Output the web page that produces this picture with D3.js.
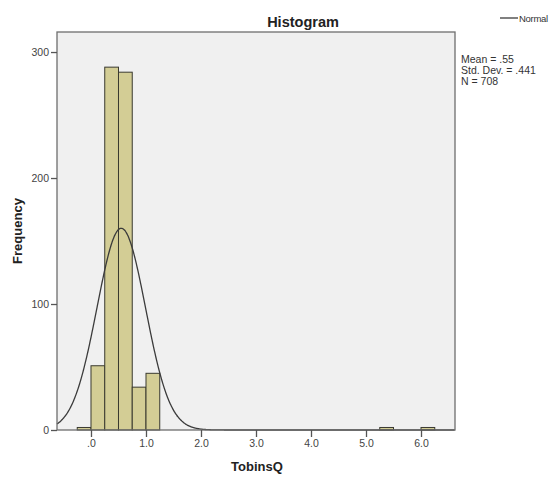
<!DOCTYPE html>
<html>
<head>
<meta charset="utf-8">
<script src="https://cdn.jsdelivr.net/npm/d3@7/dist/d3.min.js"></script>
<style>
  html, body { margin: 0; padding: 0; background: #fff; }
  svg { display: block; font-family: "Liberation Sans", Arial, sans-serif; }
</style>
</head>
<body>
<svg id="chart" width="553" height="478"></svg>
<script>
// Histogram bins of TobinsQ (bin width 0.25)
const binStarts = [-0.25, 0.0, 0.25, 0.5, 0.75, 1.0, 5.25, 6.0];
const binCounts = [2, 51, 288, 284, 34, 45, 2, 2];
const binWidth = 0.25;

// Summary statistics
const statMean = 0.55;
const statSD = 0.441;
const statN = 708;
const statLines = ["Mean = .55", "Std. Dev. = .441", "N = 708"];

// Axis ticks
const xTicks = [0, 1, 2, 3, 4, 5, 6];
const xTickLabels = [".0", "1.0", "2.0", "3.0", "4.0", "5.0", "6.0"];
const yTicks = [0, 100, 200, 300];

const svg = d3.select("#chart");
const plot = { left: 57, right: 455, top: 32, bottom: 430 };

const x = d3.scaleLinear().domain([-0.618, 6.618]).range([plot.left, plot.right]);
const y = d3.scaleLinear().domain([0, 315.9]).range([plot.bottom, plot.top]);

// Plot background
svg.append("rect")
  .attr("x", plot.left).attr("y", plot.top)
  .attr("width", plot.right - plot.left).attr("height", plot.bottom - plot.top)
  .attr("fill", "#f0f0f0");

// Bars
const bins = binStarts.map((s, i) => ({ x0: s, x1: s + binWidth, n: binCounts[i] }));
svg.append("g").selectAll("rect").data(bins).join("rect")
  .attr("x", d => x(d.x0))
  .attr("width", d => x(d.x1) - x(d.x0))
  .attr("y", d => y(d.n))
  .attr("height", d => y(0) - y(d.n))
  .attr("fill", "#d3cd95")
  .attr("stroke", "#3a3a30")
  .attr("stroke-width", 1);

// Normal curve scaled to counts
const norm = v => statN * binWidth / (statSD * Math.sqrt(2 * Math.PI)) *
  Math.exp(-0.5 * Math.pow((v - statMean) / statSD, 2));
const curvePts = d3.range(x.domain()[0], x.domain()[1] + 0.001, 0.01).map(v => [v, norm(v)]);
svg.append("path")
  .datum(curvePts)
  .attr("fill", "none")
  .attr("stroke", "#3b3b3b")
  .attr("stroke-width", 1.3)
  .attr("d", d3.line().x(d => x(d[0])).y(d => y(d[1])).curve(d3.curveBasis));

// Frame
svg.append("rect")
  .attr("x", plot.left).attr("y", plot.top)
  .attr("width", plot.right - plot.left).attr("height", plot.bottom - plot.top)
  .attr("fill", "none").attr("stroke", "#6e6e6e").attr("stroke-width", 1.3);

// Y axis
const yAxis = d3.axisLeft(y).tickValues(yTicks).tickSize(6).tickPadding(2).tickFormat(d3.format("d"));
const gy = svg.append("g").attr("transform", `translate(${plot.left},0)`).call(yAxis);
gy.select(".domain").remove();
gy.selectAll(".tick line").attr("stroke", "#555").attr("stroke-width", 1.3);
gy.selectAll(".tick text").attr("fill", "#444").attr("font-size", 10.5)
  .attr("font-family", "Liberation Sans, Arial, sans-serif");

// X axis
const xAxis = d3.axisBottom(x).tickValues(xTicks).tickSize(7).tickPadding(3)
  .tickFormat((d, i) => xTickLabels[i]);
const gx = svg.append("g").attr("transform", `translate(0,${plot.bottom})`).call(xAxis);
gx.select(".domain").remove();
gx.selectAll(".tick line").attr("stroke", "#555").attr("stroke-width", 1.3);
gx.selectAll(".tick text").attr("fill", "#444").attr("font-size", 10.5)
  .attr("font-family", "Liberation Sans, Arial, sans-serif");

// Title
svg.append("text")
  .attr("x", 303).attr("y", 27)
  .attr("text-anchor", "middle")
  .attr("font-size", 14.5).attr("font-weight", "bold").attr("fill", "#222")
  .text("Histogram");

// Axis titles
svg.append("text")
  .attr("x", 257).attr("y", 471)
  .attr("text-anchor", "middle")
  .attr("font-size", 13).attr("font-weight", "bold").attr("fill", "#222")
  .text("TobinsQ");

svg.append("text")
  .attr("transform", `translate(22,${(plot.top + plot.bottom) / 2}) rotate(-90)`)
  .attr("text-anchor", "middle")
  .attr("font-size", 13).attr("font-weight", "bold").attr("fill", "#222")
  .text("Frequency");

// Legend
svg.append("line")
  .attr("x1", 500).attr("x2", 518).attr("y1", 18).attr("y2", 18)
  .attr("stroke", "#3b3b3b").attr("stroke-width", 1.3);
svg.append("text")
  .attr("x", 519).attr("y", 21.5)
  .attr("font-size", 9.5).attr("fill", "#333")
  .attr("letter-spacing", -0.3)
  .text("Normal");

// Statistics block
svg.append("g").selectAll("text").data(statLines).join("text")
  .attr("x", 461)
  .attr("y", (d, i) => 63 + i * 11)
  .attr("font-size", 10.5).attr("fill", "#333")
  .text(d => d);
</script>
</body>
</html>
